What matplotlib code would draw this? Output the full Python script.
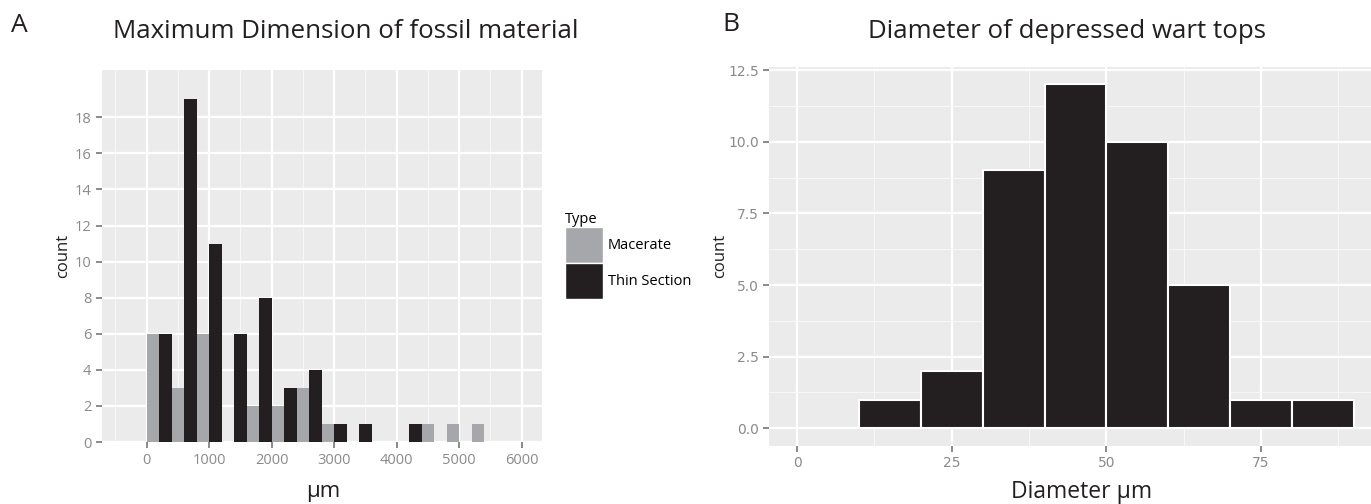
import matplotlib
matplotlib.use("Agg")
import matplotlib.pyplot as plt
import numpy as np
from matplotlib.patches import Patch

plt.rcParams['font.family'] = ['Open Sans', 'DejaVu Sans']

# panel A: dodged histogram, binwidth 400 um
bin_width_a = 400
bin_left_a = np.arange(0, 5600, bin_width_a)
macerate = [6, 3, 6, 0, 2, 2, 3, 1, 0, 0, 0, 1, 1, 1]
thin_section = [6, 19, 11, 6, 8, 3, 4, 1, 1, 0, 1, 0, 0, 0]
type_labels = ["Macerate", "Thin Section"]

# panel B: histogram of wart top diameters, binwidth 10 um
bin_width_b = 10
bin_left_b = np.arange(10, 90, bin_width_b)
wart_counts = [1, 2, 9, 12, 10, 5, 1, 1]

PANEL = "#EBEBEB"
GREY = "#A6A7AA"
BLACK = "#231F20"
TICK = "#8A8A8A"
TEXT = "#231F20"

W, H = 1371, 504
fig = plt.figure(figsize=(W / 100, H / 100), dpi=100)


def px(x, y):
    # figure pixel (from top-left) -> figure fraction
    return x / W, 1 - y / H


def style(ax, narrow=False):
    ax.set_facecolor(PANEL)
    for s in ax.spines.values():
        s.set_visible(False)
    ax.grid(which="major", color="white", linewidth=1.6)
    ax.grid(which="minor", color="#F7F7F7", linewidth=0.8)
    ax.set_axisbelow(True)
    ax.tick_params(which="major", length=4.6, width=1.4, color=TICK,
                   labelcolor=TICK, labelsize=10.5, pad=3)
    ax.tick_params(which="minor", length=0)
    if narrow:
        for lab in ax.get_xticklabels() + ax.get_yticklabels():
            lab.set_family(['Liberation Sans Narrow', 'DejaVu Sans'])
            lab.set_fontsize(10)


# ---- panel A ----
axA = fig.add_axes([101.7 / W, 62 / H, 440 / W, 372 / H])
half = bin_width_a / 2
axA.bar(bin_left_a, macerate, width=half, align="edge", color=GREY,
        label=type_labels[0])
axA.bar(bin_left_a + half, thin_section, width=half, align="edge",
        color=BLACK, label=type_labels[1])
axA.set_xticks(np.arange(0, 6001, 1000))
axA.set_xticks(np.arange(-500, 6001, 1000), minor=True)
axA.set_yticks(np.arange(0, 19, 2))
axA.set_xlim(-720, 6320)
axA.set_ylim(0, 20.62)
style(axA)
axA.grid(which="minor", axis="y", visible=False)

handles = [Patch(facecolor=GREY, edgecolor="white", linewidth=1,
                 label=type_labels[0]),
           Patch(facecolor=BLACK, edgecolor="white", linewidth=1,
                 label=type_labels[1])]
leg = fig.legend(handles=handles, title="Type", loc="upper left",
                 bbox_to_anchor=px(565, 212), frameon=False,
                 fontsize=10.5, title_fontsize=10.5, handlelength=2.6,
                 handleheight=3.4, handletextpad=0.35, labelspacing=0.0,
                 borderpad=0.0, borderaxespad=0.0)
leg._legend_box.align = "left"

# ---- panel B ----
x_per = (1261 - 797.1) / 75
left_b = 797.1 - 4.5 * x_per
right_b = 797.1 + 94.5 * x_per
axB = fig.add_axes([left_b / W, 58.5 / H, (right_b - left_b) / W, 378.2 / H])
axB.bar(bin_left_b, wart_counts, width=bin_width_b, align="edge",
        color=BLACK, edgecolor="white", linewidth=1.5)
axB.set_xticks([0, 25, 50, 75])
axB.set_xticks([12.5, 37.5, 62.5, 87.5], minor=True)
axB.set_yticks(np.arange(0, 12.6, 2.5))
axB.set_yticks(np.arange(1.25, 12.6, 2.5), minor=True)
axB.set_yticklabels(["0.0", "2.5", "5.0", "7.5", "10.0", "12.5"])
axB.set_xlim(-4.5, 94.5)
axB.set_ylim(-0.6, 12.6)
style(axB, narrow=True)

# titles, axis labels, panel letters
fig.text(*px(345.5, 38.3), "Maximum Dimension of fossil material",
         fontsize=18.6, ha="center", va="baseline", color=TEXT)
fig.text(*px(1067.5, 38.3), "Diameter of depressed wart tops",
         fontsize=18.6, ha="center", va="baseline", color=TEXT)
fig.text(*px(323, 497), "µm", fontsize=16, ha="center", va="baseline",
         color=TEXT)
fig.text(*px(1082, 498), "Diameter µm", fontsize=16.5, ha="center",
         va="baseline", color=TEXT)
fig.text(*px(63, 256), "count", fontsize=12, rotation=90, ha="center",
         va="center", color=TEXT)
fig.text(*px(720.5, 256), "count", fontsize=12, rotation=90, ha="center",
         va="center", color=TEXT)
fig.text(*px(11, 31.7), "A", fontsize=19, ha="left", va="baseline",
         color=TEXT)
fig.text(*px(722, 30.7), "B", fontsize=19, ha="left", va="baseline",
         color=TEXT)

fig.savefig("out.png", dpi=100)
